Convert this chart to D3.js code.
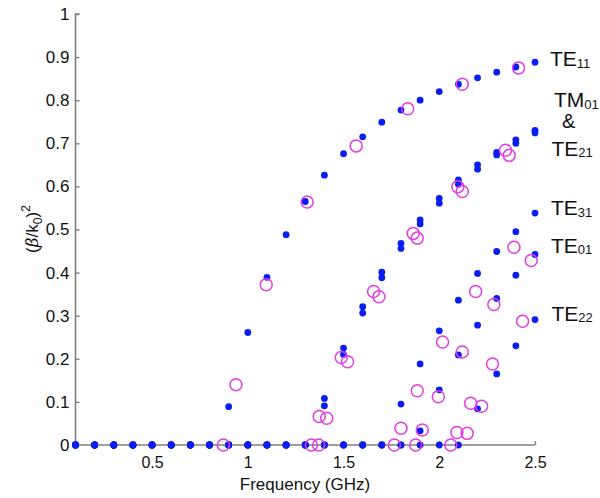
<!DOCTYPE html>
<html>
<head>
<meta charset="utf-8">
<script src="https://cdn.jsdelivr.net/npm/d3@7"></script>
<style>
  body { margin: 0; background: #fff; }
  text { font-family: "Liberation Sans", Arial, sans-serif; fill: #111; }
</style>
</head>
<body>
<svg id="chart" width="600" height="498"></svg>
<script>
// Frequencies of the simulated points (GHz)
const freqs = [0.1, 0.2, 0.3, 0.4, 0.5, 0.6, 0.7, 0.8, 0.9, 1.0, 1.1, 1.2, 1.3,
               1.4, 1.5, 1.6, 1.7, 1.8, 1.9, 2.0, 2.1, 2.2, 2.3, 2.4, 2.5];

// Simulated (beta/k0)^2 per mode, zero below cutoff
const te11 = [0, 0, 0, 0, 0, 0, 0, 0, 0.089, 0.261, 0.389, 0.488, 0.565, 0.626, 0.676,
              0.715, 0.749, 0.777, 0.800, 0.820, 0.837, 0.852, 0.865, 0.877, 0.888];
const tm01 = [0, 0, 0, 0, 0, 0, 0, 0, 0, 0, 0, 0, 0, 0.108, 0.225, 0.321, 0.401, 0.468,
              0.522, 0.572, 0.615, 0.650, 0.679, 0.708, 0.730];
const te21 = [0, 0, 0, 0, 0, 0, 0, 0, 0, 0, 0, 0, 0, 0.091, 0.210, 0.306, 0.388, 0.456,
              0.513, 0.561, 0.605, 0.640, 0.673, 0.700, 0.724];
const te31 = [0, 0, 0, 0, 0, 0, 0, 0, 0, 0, 0, 0, 0, 0, 0, 0, 0, 0.095, 0.188, 0.265,
              0.336, 0.398, 0.449, 0.495, 0.538];
const te01 = [0, 0, 0, 0, 0, 0, 0, 0, 0, 0, 0, 0, 0, 0, 0, 0, 0, 0, 0.033, 0.128, 0.209,
              0.278, 0.340, 0.394, 0.442];
const te22 = [0, 0, 0, 0, 0, 0, 0, 0, 0, 0, 0, 0, 0, 0, 0, 0, 0, 0, 0, 0, 0, 0.084,
              0.165, 0.230, 0.291];

// Measured points [freq, value] (open circles)
const measTe11 = [[0.872, 0], [0.938, 0.140], [1.096, 0.372], [1.31, 0.564], [1.566, 0.694],
                  [1.835, 0.780], [2.12, 0.837], [2.414, 0.875]];
const measTm01Te21 = [[1.332, 0], [1.37, 0], [1.373, 0.066], [1.412, 0.062], [1.488, 0.203],
                      [1.521, 0.193], [1.657, 0.356], [1.685, 0.344], [1.864, 0.491],
                      [1.885, 0.480], [2.097, 0.599], [2.12, 0.588], [2.346, 0.684], [2.365, 0.672]];
const measTe31 = [[1.765, 0], [1.80, 0.039], [1.885, 0.126], [2.017, 0.239], [2.19, 0.356],
                  [2.39, 0.459]];
const measTe01 = [[1.877, 0], [1.911, 0.035], [1.995, 0.112], [2.12, 0.216], [2.285, 0.326],
                  [2.48, 0.428]];
const measTe22 = [[2.06, 0], [2.092, 0.029], [2.146, 0.027], [2.164, 0.097], [2.221, 0.090],
                  [2.278, 0.188], [2.435, 0.287]];

const xTicks = [0.5, 1, 1.5, 2, 2.5];
const yTicks = [0, 0.1, 0.2, 0.3, 0.4, 0.5, 0.6, 0.7, 0.8, 0.9, 1];

const AXIS_COLOR = "#7f7f7f";
const DOT_COLOR = "#0a1ef0";
const CIRCLE_COLOR = "#e23ce2";

const svg = d3.select("#chart");
const xScale = d3.scaleLinear().domain([0.1, 2.5]).range([75.5, 535]);
const yScale = d3.scaleLinear().domain([0, 1]).range([445, 14]);

// Axes
const yAxis = svg.append("g")
    .attr("transform", `translate(${xScale(0.1)},0)`)
    .call(d3.axisRight(yScale).tickValues(yTicks).tickSize(4).tickFormat(d3.format("")));
yAxis.select(".domain").attr("stroke", AXIS_COLOR).attr("stroke-width", 1.6).attr("d", `M4,${yScale(1)}H0V${yScale(0)}`);
yAxis.selectAll(".tick line").attr("stroke", AXIS_COLOR).attr("stroke-width", 1.4);
yAxis.selectAll(".tick text")
    .attr("x", -6)
    .attr("text-anchor", "end")
    .style("font-size", "17px");

const xAxis = svg.append("g")
    .attr("transform", `translate(0,${yScale(0)})`)
    .call(d3.axisTop(xScale).tickValues(xTicks).tickSize(4).tickFormat(d3.format("")));
xAxis.select(".domain").attr("stroke", AXIS_COLOR).attr("stroke-width", 1.6).attr("d", `M${xScale(0.1)},0H${xScale(2.5)}`);
xAxis.selectAll(".tick line").attr("stroke", AXIS_COLOR).attr("stroke-width", 1.4);
xAxis.selectAll(".tick text")
    .attr("y", 23)
    .attr("dy", 0)
    .style("font-size", "16px");

// Axis titles
svg.append("text")
    .attr("x", 305)
    .attr("y", 490)
    .attr("text-anchor", "middle")
    .style("font-size", "17px")
    .text("Frequency (GHz)");

const yTitle = svg.append("text")
    .attr("transform", "translate(38,229) rotate(-90)")
    .attr("text-anchor", "middle")
    .style("font-size", "17px");
yTitle.append("tspan").text("(");
yTitle.append("tspan").style("font-style", "italic").style("font-family", "DejaVu Serif, serif").text("β");
yTitle.append("tspan").text("/k");
yTitle.append("tspan").attr("dy", 4).style("font-size", "12px").text("0");
yTitle.append("tspan").attr("dy", -4).text(")");
yTitle.append("tspan").attr("dy", -8).style("font-size", "12px").text("2");

// Simulated points
const modes = [te11, tm01, te21, te31, te01, te22];
modes.forEach(values => {
    svg.append("g")
        .selectAll("circle")
        .data(freqs.map((f, i) => [f, values[i]]))
        .enter().append("circle")
        .attr("cx", d => xScale(d[0]))
        .attr("cy", d => yScale(d[1]))
        .attr("r", 3.4)
        .attr("fill", DOT_COLOR);
});

// Measured points
[measTe11, measTm01Te21, measTe31, measTe01, measTe22].forEach(points => {
    svg.append("g")
        .selectAll("circle")
        .data(points)
        .enter().append("circle")
        .attr("cx", d => xScale(d[0]))
        .attr("cy", d => yScale(d[1]))
        .attr("r", 6)
        .attr("fill", "none")
        .attr("stroke", CIRCLE_COLOR)
        .attr("stroke-width", 1.5);
});

// Mode labels next to the last simulated point
function modeLabel(name, sub, x, y) {
    const t = svg.append("text")
        .attr("x", x)
        .attr("y", y)
        .style("font-size", "21px");
    t.append("tspan").text(name);
    t.append("tspan").attr("dy", 1.5).style("font-size", "13px").text(sub);
    return t;
}
const labelX = xScale(2.5) + 15;
const last = freqs.length - 1;
modeLabel("TE", "11", labelX, yScale(te11[last]) + 4);
modeLabel("TM", "01", labelX + 4, yScale(tm01[last]) - 23);
svg.append("text")
    .attr("x", labelX + 12)
    .attr("y", yScale(tm01[last]) - 2)
    .style("font-size", "20px")
    .text("&");
modeLabel("TE", "21", labelX + 1.5, yScale(te21[last]) + 23);
modeLabel("TE", "31", labelX + 1, yScale(te31[last]) + 2);
modeLabel("TE", "01", labelX + 1, yScale(te01[last]) - 1.5);
modeLabel("TE", "22", labelX + 1.5, yScale(te22[last]) + 1);
</script>
</body>
</html>
